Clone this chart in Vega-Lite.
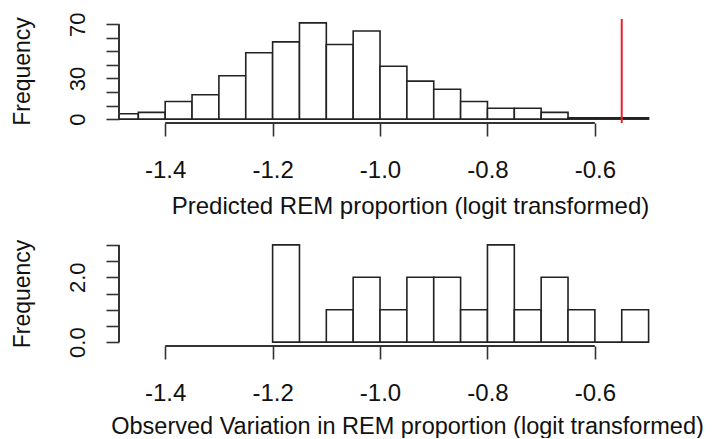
{
  "$schema": "https://vega.github.io/schema/vega-lite/v6.json",
  "autosize": {"type": "pad"},
  "padding": {"left": 11, "top": 11, "right": 0, "bottom": 0},
  "bounds": "flush",
  "spacing": 118,
  "background": "white",
  "config": {
    "view": {"stroke": null},
    "font": "Liberation Sans",
    "axis": {
      "domain": false,
      "grid": false,
      "tickColor": "#333333",
      "tickWidth": 1.6,
      "tickSize": 13,
      "tickCount": 30,
      "labelFont": "Liberation Sans",
      "labelFontSize": 24,
      "labelColor": "#111111",
      "labelPadding": 22,
      "labelOverlap": false,
      "titleFont": "Liberation Sans",
      "titleFontSize": 24,
      "titleFontWeight": "normal",
      "titleColor": "#111111"
    }
  },
  "datasets": {
    "pred": [
      {"start": -1.5, "end": -1.45, "count": 4},
      {"start": -1.45, "end": -1.4, "count": 5},
      {"start": -1.4, "end": -1.35, "count": 13},
      {"start": -1.35, "end": -1.3, "count": 18},
      {"start": -1.3, "end": -1.25, "count": 32},
      {"start": -1.25, "end": -1.2, "count": 49},
      {"start": -1.2, "end": -1.15, "count": 57},
      {"start": -1.15, "end": -1.1, "count": 71},
      {"start": -1.1, "end": -1.05, "count": 55},
      {"start": -1.05, "end": -1.0, "count": 65},
      {"start": -1.0, "end": -0.95, "count": 39},
      {"start": -0.95, "end": -0.9, "count": 28},
      {"start": -0.9, "end": -0.85, "count": 22},
      {"start": -0.85, "end": -0.8, "count": 13},
      {"start": -0.8, "end": -0.75, "count": 8},
      {"start": -0.75, "end": -0.7, "count": 8},
      {"start": -0.7, "end": -0.65, "count": 5},
      {"start": -0.65, "end": -0.6, "count": 1},
      {"start": -0.6, "end": -0.55, "count": 1},
      {"start": -0.55, "end": -0.5, "count": 1}
    ],
    "obs": [
      {"start": -1.2, "end": -1.15, "count": 3},
      {"start": -1.15, "end": -1.1, "count": 0},
      {"start": -1.1, "end": -1.05, "count": 1},
      {"start": -1.05, "end": -1.0, "count": 2},
      {"start": -1.0, "end": -0.95, "count": 1},
      {"start": -0.95, "end": -0.9, "count": 2},
      {"start": -0.9, "end": -0.85, "count": 2},
      {"start": -0.85, "end": -0.8, "count": 1},
      {"start": -0.8, "end": -0.75, "count": 3},
      {"start": -0.75, "end": -0.7, "count": 1},
      {"start": -0.7, "end": -0.65, "count": 2},
      {"start": -0.65, "end": -0.6, "count": 1},
      {"start": -0.6, "end": -0.55, "count": 0},
      {"start": -0.55, "end": -0.5, "count": 1}
    ]
  },
  "vconcat": [
    {
      "width": 550,
      "height": 104,
      "layer": [
        {
          "data": {"name": "pred"},
          "mark": {"type": "rect", "fill": "white", "stroke": "#222222", "strokeWidth": 1.6, "clip": true},
          "encoding": {
            "x": {"field": "start", "type": "quantitative",
              "scale": {"domain": [-1.486, -0.462], "nice": false, "zero": false},
              "axis": {"values": [-1.4, -1.2, -1.0, -0.8, -0.6],
                "labelExpr": "replace(format(datum.value, '.1f'), '\u2212', '-')",
                "title": "Predicted REM proportion (logit transformed)",
                "titleBaseline": "alphabetic", "titleAlign": "center", "titleX": 291, "titleY": 90}},
            "x2": {"field": "end"},
            "y": {"field": "count", "type": "quantitative",
              "scale": {"domain": [-2.84, 73.84], "nice": false, "zero": false},
              "axis": {"values": [0, 10, 20, 30, 40, 50, 60, 70],
                "labelAngle": -90, "labelAlign": "center", "labelBaseline": "alphabetic",
                "labelFontSize": 22, "titleFontSize": 23,
                "labelExpr": "datum.value == 0 || datum.value == 30 || datum.value == 70 ? datum.label : ''",
                "title": "Frequency", "titleAngle": -90, "titleBaseline": "alphabetic",
                "titleAlign": "center", "titleX": -89.5, "titleY": 52}},
            "y2": {"datum": 0}
          }
        },
        {
          "data": {"values": [{"a": -1.4, "b": -0.6, "y": -2.84}]},
          "mark": {"type": "rule", "stroke": "#333333", "strokeWidth": 2},
          "encoding": {
            "x": {"field": "a", "type": "quantitative"},
            "x2": {"field": "b"},
            "y": {"field": "y", "type": "quantitative"}
          }
        },
        {
          "data": {"values": [{"x": -1.486, "a": 0, "b": 70}]},
          "mark": {"type": "rule", "stroke": "#333333", "strokeWidth": 2},
          "encoding": {
            "x": {"field": "x", "type": "quantitative"},
            "y": {"field": "a", "type": "quantitative"},
            "y2": {"field": "b"}
          }
        },
        {
          "data": {"values": [{"x": -0.55}]},
          "mark": {"type": "rule", "stroke": "#e8202a", "strokeWidth": 2},
          "encoding": {
            "x": {"field": "x", "type": "quantitative"}
          }
        }
      ]
    },
    {
      "width": 550,
      "height": 105,
      "layer": [
        {
          "data": {"name": "obs"},
          "mark": {"type": "rect", "fill": "white", "stroke": "#222222", "strokeWidth": 1.6, "clip": true},
          "encoding": {
            "x": {"field": "start", "type": "quantitative",
              "scale": {"domain": [-1.486, -0.462], "nice": false, "zero": false},
              "axis": {"values": [-1.4, -1.2, -1.0, -0.8, -0.6],
                "labelExpr": "replace(format(datum.value, '.1f'), '\u2212', '-')",
                "title": "Observed Variation in REM proportion (logit transformed)",
                "titleFontSize": 23.5,
                "titleBaseline": "alphabetic", "titleAlign": "center", "titleX": 288, "titleY": 87}},
            "x2": {"field": "end"},
            "y": {"field": "count", "type": "quantitative",
              "scale": {"domain": [-0.12, 3.12], "nice": false, "zero": false},
              "axis": {"values": [0, 0.5, 1, 1.5, 2, 2.5, 3],
                "labelAngle": -90, "labelAlign": "center", "labelBaseline": "alphabetic",
                "labelFontSize": 22, "titleFontSize": 23,
                "labelExpr": "datum.value == 0 ? '0.0' : datum.value == 2 ? '2.0' : ''",
                "title": "Frequency", "titleAngle": -90, "titleBaseline": "alphabetic",
                "titleAlign": "center", "titleX": -89.5, "titleY": 52.5}},
            "y2": {"datum": 0}
          }
        },
        {
          "data": {"values": [{"a": -1.4, "b": -0.6, "y": -0.12}]},
          "mark": {"type": "rule", "stroke": "#333333", "strokeWidth": 2},
          "encoding": {
            "x": {"field": "a", "type": "quantitative"},
            "x2": {"field": "b"},
            "y": {"field": "y", "type": "quantitative"}
          }
        },
        {
          "data": {"values": [{"x": -1.486, "a": 0, "b": 3}]},
          "mark": {"type": "rule", "stroke": "#333333", "strokeWidth": 2},
          "encoding": {
            "x": {"field": "x", "type": "quantitative"},
            "y": {"field": "a", "type": "quantitative"},
            "y2": {"field": "b"}
          }
        }
      ]
    }
  ]
}
